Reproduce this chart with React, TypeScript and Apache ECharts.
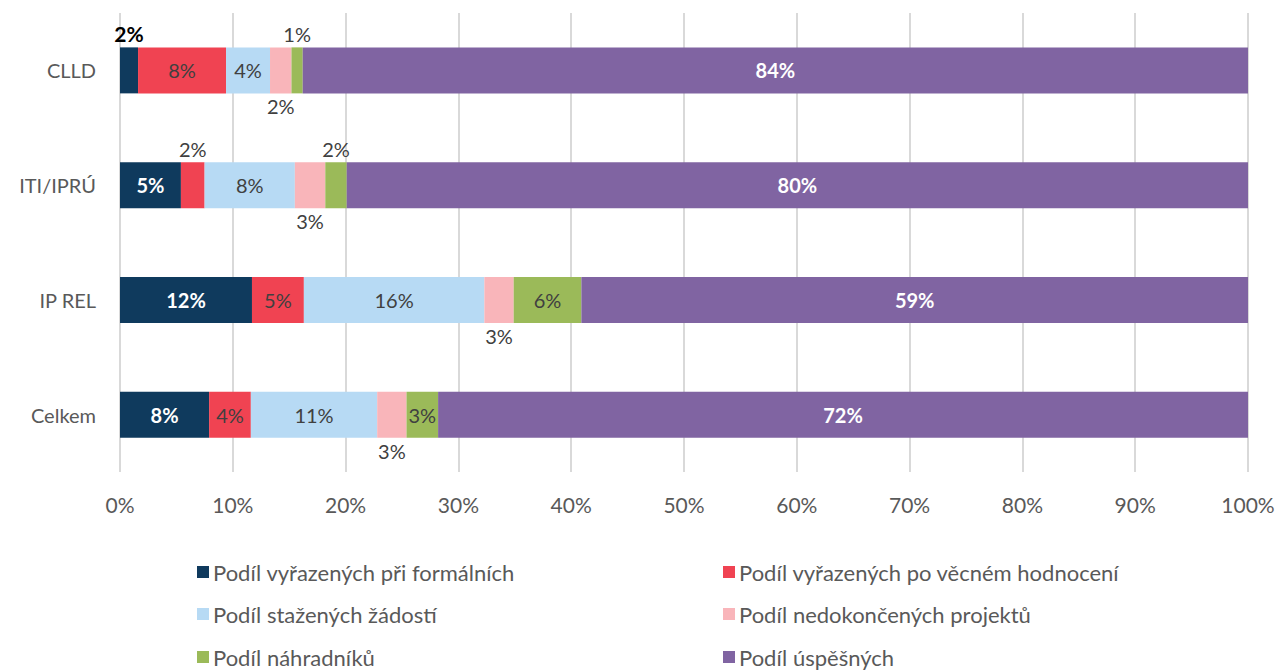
import React, { useEffect, useRef } from "react";
import * as echarts from "echarts";

const categories = ["CLLD", "ITI/IPRÚ", "IP REL", "Celkem"];
const seriesNames = [
  "Podíl vyřazených při formálních",
  "Podíl vyřazených po věcném hodnocení",
  "Podíl stažených žádostí",
  "Podíl nedokončených projektů",
  "Podíl náhradníků",
  "Podíl úspěšných",
];
const formalni = [1.6, 5.4, 11.7, 7.9];
const vecne = [7.8, 2.1, 4.6, 3.7];
const stazene = [3.9, 8.0, 16.0, 11.2];
const nedokoncene = [1.9, 2.7, 2.6, 2.6];
const nahradnici = [1.0, 1.9, 6.0, 2.8];
const uspesne = [83.8, 79.9, 59.1, 71.8];
const xTicks = [0, 10, 20, 30, 40, 50, 60, 70, 80, 90, 100];

const values = [formalni, vecne, stazene, nedokoncene, nahradnici, uspesne];
const colors = ["#0F3A5D", "#F04352", "#B7DAF4", "#F9B5BA", "#9BBA59", "#8064A2"];
// label placement per series per category: "in" | "top" | "bottom"
const placement = [
  ["top", "in", "in", "in"],
  ["in", "top", "in", "in"],
  ["in", "in", "in", "in"],
  ["bottom", "bottom", "bottom", "bottom"],
  ["top", "top", "in", "in"],
  ["in", "in", "in", "in"],
];

const FONT = "Lato, 'Noto Sans', sans-serif";

export default function App() {
  const ref = useRef<HTMLDivElement>(null);
  useEffect(() => {
    if (!ref.current) return;
    const chart = echarts.init(ref.current, null, { renderer: "svg" });
    const series = values.map((arr, si) => ({
      name: seriesNames[si],
      type: "bar",
      stack: "total",
      barWidth: 46,
      itemStyle: { color: colors[si] },
      data: arr.map((v, ci) => {
        const p = placement[si][ci];
        const whiteBold = si === 0 || si === 5;
        const label: any = {
          show: true,
          fontFamily: FONT,
          fontSize: 20,
          formatter: (d: any) => Math.round(d.value) + "%",
        };
        if (p === "in") {
          label.position = "inside";
          label.color = whiteBold ? "#FFFFFF" : "#404040";
          label.fontWeight = whiteBold ? "bold" : "normal";
        } else {
          label.position = p;
          label.distance = 3;
          if (si === 0) {
            label.color = "#000000";
            label.fontWeight = "bold";
            label.fontSize = 21;
          } else {
            label.color = "#404040";
            label.fontWeight = "normal";
          }
        }
        return { value: v, label };
      }),
    }));
    const rowTops = [560, 602, 645];
    const lefts = [197, 723];
    const legends = seriesNames.map((n, i) => ({
      orient: "horizontal",
      icon: "rect",
      padding: 0,
      itemWidth: 12,
      itemHeight: 12,
      left: lefts[i % 2],
      top: rowTops[Math.floor(i / 2)],
      data: [n],
      textStyle: {
        fontFamily: FONT,
        fontSize: 22,
        color: "#595959",
        lineHeight: 24,
        padding: [0, 0, 0, -1],
      },
    }));
    chart.setOption({
      animation: false,
      textStyle: { fontFamily: FONT },
      grid: { left: 120, right: 30, top: 13, height: 459, containLabel: false },
      xAxis: {
        type: "value",
        min: xTicks[0],
        max: xTicks[xTicks.length - 1],
        interval: 10,
        axisLine: { show: false },
        axisTick: { show: false },
        splitLine: { show: true, lineStyle: { color: "#D9D9D9", width: 2 } },
        axisLabel: {
          fontFamily: FONT,
          fontSize: 21,
          color: "#595959",
          margin: 22,
          formatter: (v: number) => v + "%",
        },
      },
      yAxis: {
        type: "category",
        data: categories,
        inverse: true,
        axisLine: { show: false },
        axisTick: { show: false },
        axisLabel: { fontFamily: FONT, fontSize: 20, color: "#595959", margin: 24 },
      },
      legend: legends,
      series,
    });
    return () => chart.dispose();
  }, []);
  return (
    <div
      ref={ref}
      style={{ position: "fixed", left: 0, top: 0, width: 1278, height: 670, background: "#fff" }}
    />
  );
}
